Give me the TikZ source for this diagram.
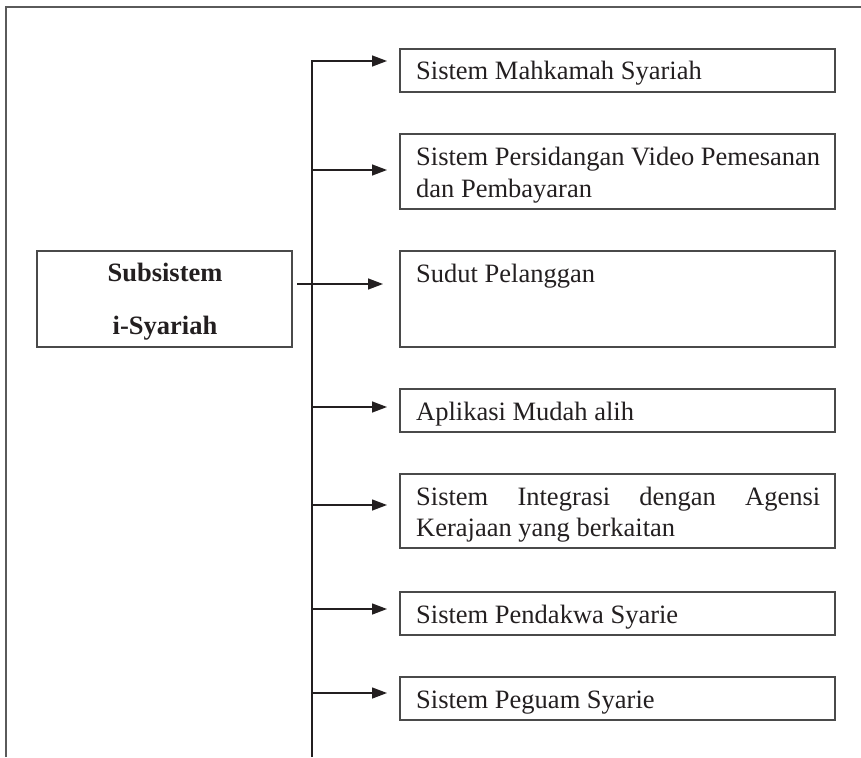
\documentclass[tikz,border=0pt]{standalone}
\usepackage{fontspec}
\setmainfont{Liberation Serif}
\usetikzlibrary{arrows.meta,calc}
\definecolor{ink}{HTML}{231F20}
\definecolor{boxgray}{HTML}{4A4A4A}
\definecolor{framegray}{HTML}{5A5A5A}
\begin{document}
\begin{tikzpicture}[x=1pt,y=-1pt,
  box/.style={draw=boxgray, line width=1.5pt, anchor=north west, inner sep=0pt, outer sep=0pt, minimum width=435pt},
  mainbox/.style={draw=boxgray, line width=1.5pt, anchor=north west, inner sep=0pt, outer sep=0pt, minimum width=255pt, minimum height=96pt},
  txt/.style={anchor=base west, inner sep=0pt, text=ink, font=\fontsize{26.5}{32}\selectfont},
  btxt/.style={anchor=base, inner sep=0pt, text=ink, font=\fontsize{26.5}{32}\selectfont\bfseries},
  arr/.style={draw=ink, line width=1.4pt, -{Triangle[length=15pt,width=11pt]}},
  frame/.style={draw=framegray, line width=2pt}
]
\useasboundingbox (0,0) rectangle (861,757);

% outer frame
\coordinate (fb) at (6,757);
\coordinate (fc) at (6,7);
\coordinate (fr) at (861,7);
\draw[frame] (fb) -- (fc) -- (fr);

% boxes
\node[mainbox] (main) at (37,251) {};
\node[box, minimum height=43pt] (b1) at (400,49) {};
\node[box, minimum height=75pt] (b2) at (400,134) {};
\node[box, minimum height=96pt] (b3) at (400,251) {};
\node[box, minimum height=43pt] (b4) at (400,389) {};
\node[box, minimum height=74pt] (b5) at (400,474) {};
\node[box, minimum height=43pt] (b6) at (400,592) {};
\node[box, minimum height=43pt] (b7) at (400,677) {};

% texts
\node[btxt] (m1) at (165,281) {Subsistem};
\node[btxt] (m2) at (165,334) {i-Syariah};
\node[txt] (t1) at (416,80) {Sistem Mahkamah Syariah};
\node[txt] (t2a) at (416,165) {Sistem Persidangan Video Pemesanan};
\node[txt] (t2b) at (416,197) {dan Pembayaran};
\node[txt] (t3) at (416,282) {Sudut Pelanggan};
\node[txt] (t4) at (416,420) {Aplikasi Mudah alih};
\node[txt] (t5a) at (416,505) {\hbox to 404pt{Sistem\hfill Integrasi\hfill dengan\hfill Agensi}};
\node[txt] (t5b) at (416,536) {Kerajaan yang berkaitan};
\node[txt] (t6) at (416,623) {Sistem Pendakwa Syarie};
\node[txt] (t7) at (416,708) {Sistem Peguam Syarie};

% trunk
\coordinate (c1) at (312,61);
\coordinate (c2) at (312,170);
\coordinate (c4) at (312,407);
\coordinate (c5) at (312,505);
\coordinate (c6) at (312,609);
\coordinate (c7) at (312,693);
\coordinate (cb) at (312,757);
\coordinate (ym) at (0,284);

\draw[arr, shorten >=13pt] (cb) -- (c1) -- (c1 -| b1.west);
\draw[arr, shorten >=13pt] (c2) -- (c2 -| b2.west);
\draw[arr, shorten >=13pt] (c4) -- (c4 -| b4.west);
\draw[arr, shorten >=13pt] (c5) -- (c5 -| b5.west);
\draw[arr, shorten >=13pt] (c6) -- (c6 -| b6.west);
\draw[arr, shorten >=13pt] (c7) -- (c7 -| b7.west);
\draw[arr, shorten <=5pt, shorten >=17pt] (main.east |- ym) -- (b3.west |- ym);
\end{tikzpicture}
\end{document}
